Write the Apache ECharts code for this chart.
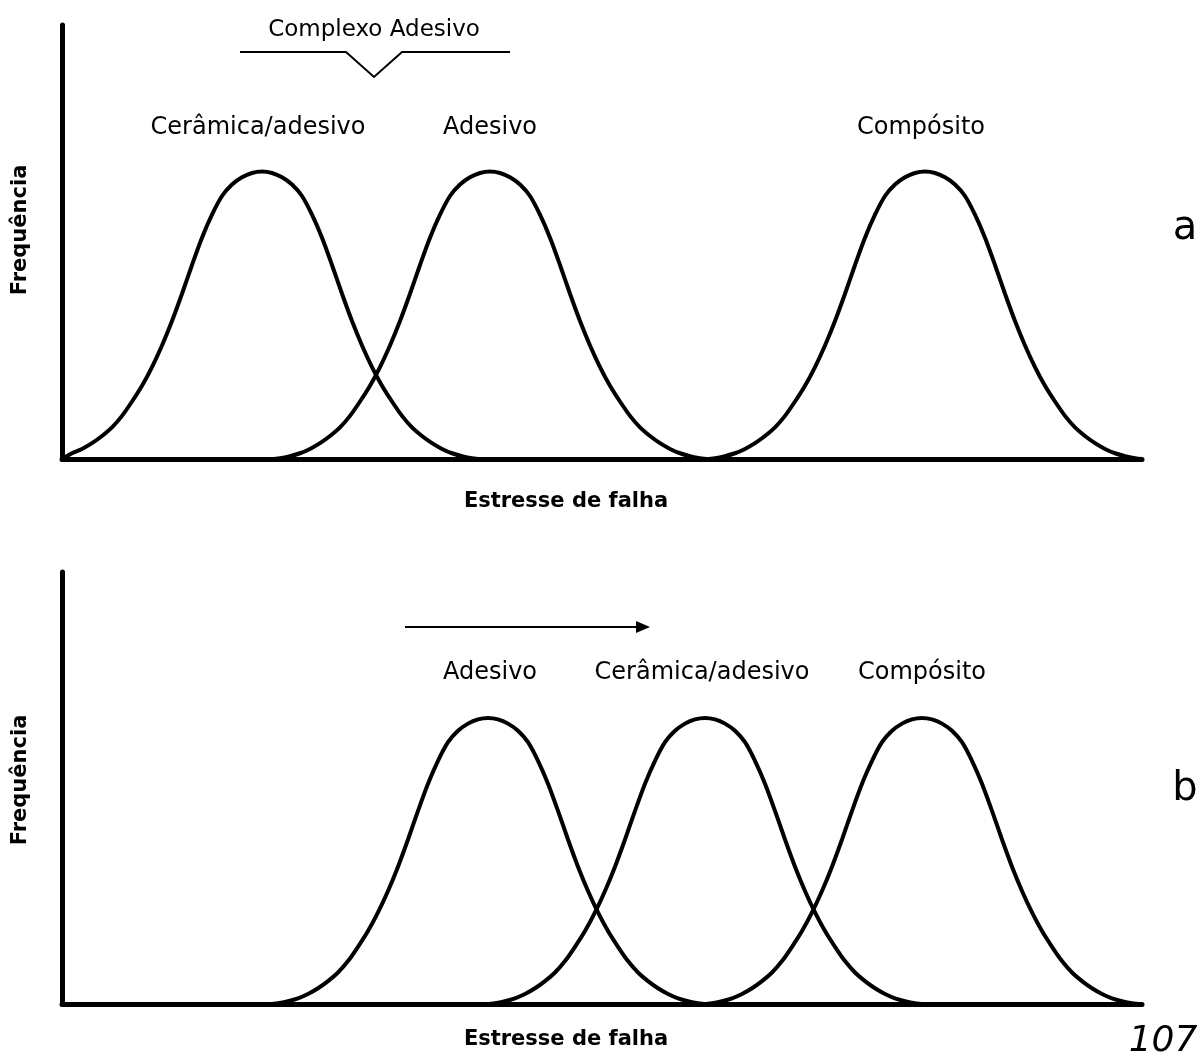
<!DOCTYPE html>
<html>
<head>
<meta charset="utf-8">
<script src="https://cdn.jsdelivr.net/npm/echarts@6/dist/echarts.min.js"></script>
<style>
  html, body { margin: 0; padding: 0; background: #fff; }
  #chart { width: 1200px; height: 1057px; }
</style>
</head>
<body>
<div id="chart"></div>
<script>
// stress axis runs 0..1080, frequency 0..151 (peaks at 100)
const ceramicaA = [[0,0],[10,2],[20,3.5],[30,5.5],[40,8],[50,11],[60,15],[70,20],[80,25.5],[90,32],[100,39.5],[110,48],[120,57.5],[130,67.5],[140,77],[150,85],[160,91.5],[170,95.5],[180,98],[190,99.5],[200,100],[210,99.5],[220,98],[230,95.5],[240,91.5],[250,85],[260,77],[270,67.5],[280,57.5],[290,48],[300,39.5],[310,32],[320,25.5],[330,20],[340,15],[350,11],[360,8],[370,5.5],[380,3.5],[390,2],[400,1],[410,0.3],[420,0]];
const adesivoA = [[208,0],[218,0.3],[228,1],[238,2],[248,3.5],[258,5.5],[268,8],[278,11],[288,15],[298,20],[308,25.5],[318,32],[328,39.5],[338,48],[348,57.5],[358,67.5],[368,77],[378,85],[388,91.5],[398,95.5],[408,98],[418,99.5],[428,100],[438,99.5],[448,98],[458,95.5],[468,91.5],[478,85],[488,77],[498,67.5],[508,57.5],[518,48],[528,39.5],[538,32],[548,25.5],[558,20],[568,15],[578,11],[588,8],[598,5.5],[608,3.5],[618,2],[628,1],[638,0.3],[648,0]];
const compositoA = [[643,0],[653,0.3],[663,1],[673,2],[683,3.5],[693,5.5],[703,8],[713,11],[723,15],[733,20],[743,25.5],[753,32],[763,39.5],[773,48],[783,57.5],[793,67.5],[803,77],[813,85],[823,91.5],[833,95.5],[843,98],[853,99.5],[863,100],[873,99.5],[883,98],[893,95.5],[903,91.5],[913,85],[923,77],[933,67.5],[943,57.5],[953,48],[963,39.5],[973,32],[983,25.5],[993,20],[1003,15],[1013,11],[1023,8],[1033,5.5],[1043,3.5],[1053,2],[1063,1],[1073,0.3],[1080,0]];

const adesivoB = [[206,0],[216,0.3],[226,1],[236,2],[246,3.5],[256,5.5],[266,8],[276,11],[286,15],[296,20],[306,25.5],[316,32],[326,39.5],[336,48],[346,57.5],[356,67.5],[366,77],[376,85],[386,91.5],[396,95.5],[406,98],[416,99.5],[426,100],[436,99.5],[446,98],[456,95.5],[466,91.5],[476,85],[486,77],[496,67.5],[506,57.5],[516,48],[526,39.5],[536,32],[546,25.5],[556,20],[566,15],[576,11],[586,8],[596,5.5],[606,3.5],[616,2],[626,1],[636,0.3],[646,0]];
const ceramicaB = [[423,0],[433,0.3],[443,1],[453,2],[463,3.5],[473,5.5],[483,8],[493,11],[503,15],[513,20],[523,25.5],[533,32],[543,39.5],[553,48],[563,57.5],[573,67.5],[583,77],[593,85],[603,91.5],[613,95.5],[623,98],[633,99.5],[643,100],[653,99.5],[663,98],[673,95.5],[683,91.5],[693,85],[703,77],[713,67.5],[723,57.5],[733,48],[743,39.5],[753,32],[763,25.5],[773,20],[783,15],[793,11],[803,8],[813,5.5],[823,3.5],[833,2],[843,1],[853,0.3],[863,0]];
const compositoB = [[640,0],[650,0.3],[660,1],[670,2],[680,3.5],[690,5.5],[700,8],[710,11],[720,15],[730,20],[740,25.5],[750,32],[760,39.5],[770,48],[780,57.5],[790,67.5],[800,77],[810,85],[820,91.5],[830,95.5],[840,98],[850,99.5],[860,100],[870,99.5],[880,98],[890,95.5],[900,91.5],[910,85],[920,77],[930,67.5],[940,57.5],[950,48],[960,39.5],[970,32],[980,25.5],[990,20],[1000,15],[1010,11],[1020,8],[1030,5.5],[1040,3.5],[1050,2],[1060,1],[1070,0.3],[1080,0]];

const labelsA = ['Cerâmica/adesivo', 'Adesivo', 'Compósito'];
const labelsB = ['Adesivo', 'Cerâmica/adesivo', 'Compósito'];
const xName = 'Estresse de falha';
const yName = 'Frequência';

const font = '"DejaVu Sans", sans-serif';

const chart = echarts.init(document.getElementById('chart'));

function axisX(gi) {
  return {
    type: 'value', gridIndex: gi, min: 0, max: 1080,
    axisLine: { show: true, lineStyle: { color: '#000', width: 5 } },
    axisTick: { show: false }, axisLabel: { show: false }, splitLine: { show: false }
  };
}
function axisY(gi) {
  return {
    type: 'value', gridIndex: gi, min: 0, max: 151,
    axisLine: { show: true, lineStyle: { color: '#000', width: 5 } },
    axisTick: { show: false }, axisLabel: { show: false }, splitLine: { show: false }
  };
}
function curve(name, data, gi) {
  return {
    name: name, type: 'line', data: data, xAxisIndex: gi, yAxisIndex: gi,
    smooth: 0.3, symbol: 'none', clip: false, silent: true,
    lineStyle: { color: '#000', width: 4 }
  };
}
function txt(x, y, s, size, weight, extra) {
  return Object.assign({
    type: 'text', x: x, y: y,
    style: { text: s, fill: '#000', font: (weight || 'normal') + ' ' + size + 'px ' + font, align: 'center', verticalAlign: 'middle' }
  }, extra || {});
}

const option = {
  animation: false,
  backgroundColor: '#fff',
  grid: [
    { left: 62, right: 58, top: 25, height: 434 },
    { left: 62, right: 58, top: 572, height: 432 }
  ],
  xAxis: [axisX(0), axisX(1)],
  yAxis: [axisY(0), axisY(1)],
  series: [
    curve(labelsA[0], ceramicaA, 0),
    curve(labelsA[1], adesivoA, 0),
    curve(labelsA[2], compositoA, 0),
    curve(labelsB[0], adesivoB, 1),
    curve(labelsB[1], ceramicaB, 1),
    curve(labelsB[2], compositoB, 1)
  ],
  graphic: [
    // panel a
    txt(374, 30, 'Complexo Adesivo', 23),
    { type: 'polyline', shape: { points: [[240, 52], [346, 52], [374, 77], [402, 52], [510, 52]] },
      style: { stroke: '#000', lineWidth: 2, fill: null } },
    txt(258, 128, labelsA[0], 24),
    txt(490, 128, labelsA[1], 24),
    txt(921, 128, labelsA[2], 24),
    txt(1185, 229, 'a', 40),
    txt(566, 502, xName, 21, 'bold'),
    txt(21, 230, yName, 21, 'bold', { rotation: Math.PI / 2 }),
    // panel b
    { type: 'line', shape: { x1: 405, y1: 627, x2: 640, y2: 627 }, style: { stroke: '#000', lineWidth: 2 } },
    { type: 'polygon', shape: { points: [[650, 627], [636, 621], [636, 633]] }, style: { fill: '#000' } },
    txt(490, 673, labelsB[0], 24),
    txt(702, 673, labelsB[1], 24),
    txt(922, 673, labelsB[2], 24),
    txt(1185, 790, 'b', 40),
    txt(566, 1040, xName, 21, 'bold'),
    txt(21, 780, yName, 21, 'bold', { rotation: Math.PI / 2 }),
    { type: 'text', x: 1163, y: 1042,
      style: { text: '107', fill: '#000', font: 'italic 36px "DejaVu Sans", sans-serif', align: 'center', verticalAlign: 'middle' } }
  ]
};

chart.setOption(option);
</script>
</body>
</html>
